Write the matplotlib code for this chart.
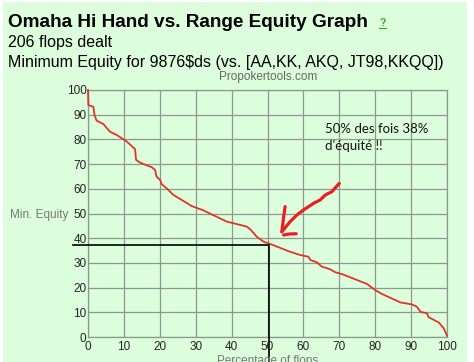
import matplotlib
matplotlib.use("Agg")
import matplotlib.pyplot as plt
from matplotlib.patches import Rectangle
from matplotlib.lines import Line2D

W, H = 474, 362

# courbe d'équité minimale
pct_flops = [0, 0.1, 1.5, 1.8, 2.4, 4.3, 6.1, 8.0, 10.8, 13.1, 13.4, 14.5, 17.8, 18.7,
             19.1, 20.1, 20.5, 21.9, 23.8, 26.1, 28.9, 32.1, 34.5, 36.8, 38.7, 41.5,
             44.2, 45.2, 47.0, 48.9, 50.7, 53.5, 56.3, 59.1, 61.4, 61.9, 63.8, 65.1,
             67.5, 68.9, 70.7, 73.0, 75.4, 77.7, 80.0, 81.9, 86.0, 87.0, 90.2, 91.6,
             92.6, 94.4, 94.9, 97.7, 99.1, 100]
min_equity = [100, 93.9, 93.2, 89.9, 87.6, 86.2, 83.1, 81.8, 79.1, 76.1, 71.7, 70.6,
              68.7, 67.6, 64.9, 63.6, 61.9, 60.2, 57.5, 55.5, 53.0, 51.3, 49.6, 48.0,
              46.7, 45.7, 44.7, 43.6, 40.6, 38.6, 37.7, 36.1, 34.5, 33.2, 32.5, 31.2,
              30.2, 28.5, 27.4, 26.2, 25.5, 24.2, 22.8, 21.5, 19.0, 17.4, 14.7, 14.0,
              13.2, 12.3, 10.2, 9.6, 8.0, 5.9, 3.5, 0.5]

ticks = [0, 10, 20, 30, 40, 50, 60, 70, 80, 90, 100]

# annotations dessinées à la main
mark_x = [-4.2, 50.5, 50.5]
mark_y = [37.2, 37.2, -10.5]
arrow_x = [70.0, 67.9, 66.1, 64.7, 62.8, 60.0, 58.2, 56.3, 54.0]
arrow_y = [62.2, 58.8, 57.5, 55.5, 54.1, 51.4, 49.4, 46.7, 42.6]
prong1_x = [54.9, 54.5, 54.0]
prong1_y = [52.8, 48.7, 42.6]
prong2_x = [54.5, 56.0, 58.0]
prong2_y = [41.3, 41.7, 41.8]

green = "#ddfedd"


def fx(px):
    return px / W


def fy(py):
    return 1 - py / H


fig = plt.figure(figsize=(W / 100, H / 100), dpi=100, facecolor="white")
fig.patches.append(Rectangle((fx(3), 0), fx(467) - fx(3), fy(2), transform=fig.transFigure,
                             facecolor=green, edgecolor="none", zorder=-10))

ax = fig.add_axes([fx(88), fy(337), fx(447) - fx(88), fy(90) - fy(337)])
ax.set_facecolor(green)
ax.set_xlim(0, 100)
ax.set_ylim(0, 100)
ax.set_xticks(ticks)
ax.set_yticks(ticks)
ax.grid(True, color="#8c9a8c", lw=0.9)
ax.set_axisbelow(True)
for s in ax.spines.values():
    s.set_color("#8c9a8c")
    s.set_linewidth(0.9)
ax.tick_params(length=0, labelsize=8.5, labelcolor="#222222")
ax.tick_params(axis="y", pad=1)
ax.tick_params(axis="x", pad=3)
for lab in ax.get_xticklabels() + ax.get_yticklabels():
    lab.set_fontfamily("Liberation Sans")

ax.plot(pct_flops, min_equity, color="#e0352b", lw=1.3, zorder=3, clip_on=False)

ax.plot(mark_x, mark_y, color="black", lw=1.2, clip_on=False, zorder=4)
for xs, ys in [(arrow_x, arrow_y), (prong1_x, prong1_y), (prong2_x, prong2_y)]:
    ax.plot(xs, ys, color="#ee1c24", lw=2.3, solid_capstyle="round",
            solid_joinstyle="round", clip_on=False, zorder=5)

ax.text(66, 75, "50% des fois 38%\nd'équité !!", fontsize=9.5, family="Lato",
        color="#111111", linespacing=1.45, va="bottom", ha="left")

# textes de la page
fig.text(fx(8), fy(27), "Omaha Hi Hand vs. Range Equity Graph", fontsize=13.7,
         fontweight="bold", family="Liberation Sans", va="baseline")
fig.text(fx(379), fy(26), "?", fontsize=7.5, color="#33aa33", family="Liberation Sans",
         va="baseline", fontweight="bold")
fig.lines.append(Line2D([fx(379), fx(386)], [fy(28), fy(28)], transform=fig.transFigure,
                        color="#33aa33", lw=0.8))
fig.text(fx(8), fy(47), "206 flops dealt", fontsize=11.5, family="Liberation Sans",
         va="baseline")
fig.text(fx(8), fy(67), r"Minimum Equity for 9876\$ds (vs. [AA,KK, AKQ, JT98,KKQQ])",
         fontsize=11.5, family="Liberation Sans", va="baseline")
fig.text(fx(268), fy(80), "Propokertools.com", fontsize=8.5, color="#666666",
         family="Liberation Sans", ha="center", va="baseline")
fig.text(fx(10), fy(218), "Min. Equity", fontsize=8.5, color="#777777",
         family="Liberation Sans", ha="left", va="baseline")
fig.text(fx(268), fy(355), "Percentage of flops", fontsize=8.5, color="#777777",
         family="Liberation Sans", ha="center", va="top")

fig.savefig("out.png", dpi=100, facecolor="white")
